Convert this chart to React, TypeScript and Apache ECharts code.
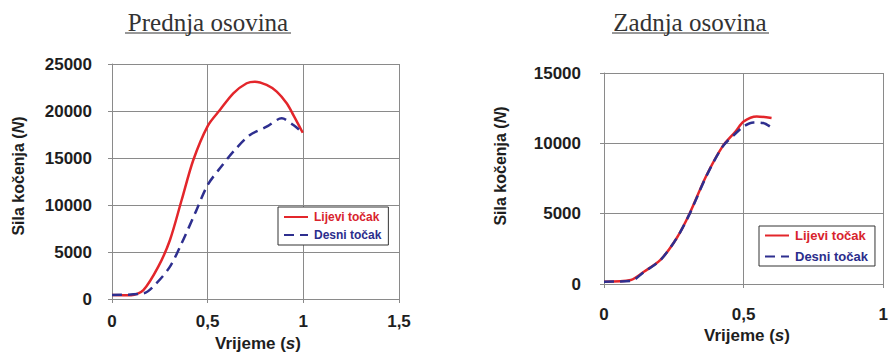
import React, { useEffect, useRef } from "react";
import * as echarts from "echarts";

// Prednja osovina (front axle)
const frontLeftT = [0, 0.1, 0.164, 0.242, 0.303, 0.364, 0.425, 0.5, 0.564, 0.634, 0.704, 0.747, 0.808, 0.861, 0.913, 0.948, 0.997];
const frontLeftF = [425, 400, 950, 3440, 6280, 10530, 14790, 18400, 20100, 21880, 22950, 23120, 22770, 22060, 20820, 19570, 17690];
const frontRightT = [0, 0.164, 0.233, 0.303, 0.364, 0.434, 0.5, 0.564, 0.634, 0.721, 0.808, 0.887, 0.948, 0.99];
const frontRightF = [425, 600, 1700, 3440, 5920, 9110, 12130, 13900, 15670, 17450, 18330, 19220, 18510, 17800];

// Zadnja osovina (rear axle)
const rearLeftT = [0, 0.096, 0.143, 0.202, 0.26, 0.307, 0.365, 0.424, 0.471, 0.5, 0.547, 0.6];
const rearLeftF = [165, 285, 875, 1710, 3250, 5030, 7640, 9770, 10840, 11550, 11910, 11800];
const rearRightT = [0, 0.096, 0.143, 0.202, 0.26, 0.307, 0.365, 0.424, 0.471, 0.5, 0.535, 0.57, 0.594];
const rearRightF = [165, 220, 850, 1700, 3250, 5000, 7600, 9750, 10700, 11200, 11480, 11440, 11200];

const seriesNames = ["Lijevi točak", "Desni točak"];
const titles = ["Prednja osovina", "Zadnja osovina"];
const xName = "Vrijeme (";
const yName = "Sila kočenja (";

const RED = "#e3262b";
const BLUE = "#2e2f8f";
const GRID = "#8a8a8a";
const FONT = "'Liberation Sans', Arial, sans-serif";

const zip = (t: number[], f: number[]) => t.map((v, i) => [v, f[i]]);

export default function App() {
  const ref = useRef<HTMLDivElement>(null);
  useEffect(() => {
    const chart = echarts.init(ref.current!, null, { renderer: "svg" });

    const xAxisBase = (gridIndex: number, max: number, margin: number) => ({
      type: "value",
      gridIndex,
      min: 0,
      max,
      interval: 0.5,
      axisLine: { show: true, lineStyle: { color: GRID, width: 1 } },
      axisTick: { show: true, length: 4, lineStyle: { color: GRID } },
      splitLine: { show: true, lineStyle: { color: GRID, width: 1 } },
      axisLabel: {
        margin,
        fontFamily: FONT,
        fontWeight: "bold",
        fontSize: 17,
        color: "#1e1e1e",
        formatter: (v: number) => String(v).replace(".", ","),
      },
    });
    const yAxisBase = (gridIndex: number, max: number, margin: number) => ({
      type: "value",
      gridIndex,
      min: 0,
      max,
      interval: 5000,
      axisLine: { show: true, lineStyle: { color: GRID, width: 1 } },
      axisTick: { show: true, length: 4, lineStyle: { color: GRID } },
      splitLine: { show: true, lineStyle: { color: GRID, width: 1 } },
      axisLabel: {
        margin,
        fontFamily: FONT,
        fontWeight: "bold",
        fontSize: 17,
        color: "#1e1e1e",
        formatter: (v: number) => String(v),
      },
    });

    const lineSeries = (name: string, data: number[][], idx: number, color: string, dashed: boolean) => ({
      type: "line",
      name,
      xAxisIndex: idx,
      yAxisIndex: idx,
      data,
      smooth: 0.3,
      symbol: "none",
      showSymbol: false,
      lineStyle: { color, width: 2.5, type: dashed ? [10, 6] : "solid" },
      itemStyle: { color },
    });

    const legendBase = (left: number, top: number, fontSize: number, gap: number, padTop: number) => ({
      left,
      top,
      orient: "vertical",
      itemWidth: 24,
      itemHeight: 14,
      itemGap: gap,
      padding: [padTop, 7, padTop, 5],
      borderColor: "#333",
      borderWidth: 1,
      borderRadius: 0,
      backgroundColor: "#fff",
      selectedMode: false,
      itemStyle: { opacity: 0 },
      data: [
        { name: seriesNames[0], textStyle: { color: "#d8232d" } },
        { name: seriesNames[1], textStyle: { color: "#2b2d8c" } },
      ],
      textStyle: { fontFamily: FONT, fontWeight: "bold", fontSize, padding: [0, 0, 0, 1] },
    });

    const titleText = (text: string, x: number, y: number) => ({
      type: "text",
      x,
      y,
      style: {
        text,
        font: "25px 'Liberation Serif', 'Times New Roman', serif",
        fill: "#333333",
        align: "center",
        verticalAlign: "middle",
      },
    });
    const underline = (x1: number, x2: number, y: number) => ({
      type: "line",
      shape: { x1, y1: y, x2, y2: y },
      style: { stroke: "#333333", lineWidth: 1 },
    });
    const richH = {
      a: { fontFamily: FONT, fontWeight: "bold", fontSize: 17, fill: "#1e1e1e", color: "#1e1e1e" },
      b: { fontFamily: FONT, fontWeight: "bold", fontStyle: "italic", fontSize: 17, fill: "#1e1e1e", color: "#1e1e1e" },
    };
    const richV = {
      a: { fontFamily: FONT, fontWeight: "bold", fontSize: 16, fill: "#1e1e1e", color: "#1e1e1e" },
      b: { fontFamily: FONT, fontWeight: "bold", fontStyle: "italic", fontSize: 16, fill: "#1e1e1e", color: "#1e1e1e" },
    };
    const xNameText = (x: number, y: number) => ({
      type: "text",
      x,
      y,
      style: {
        text: `{a|${xName}}{b|s}{a|)}`,
        rich: richH,
        align: "center",
        verticalAlign: "middle",
      },
    });
    const yNameText = (x: number, y: number) => ({
      type: "text",
      x,
      y,
      rotation: Math.PI / 2,
      style: {
        text: `{a|${yName}}{b|N}{a|)}`,
        rich: richV,
        align: "center",
        verticalAlign: "middle",
      },
    });

    chart.setOption({
      animation: false,
      backgroundColor: "#ffffff",
      grid: [
        { left: 112, top: 64, width: 287, height: 235 },
        { left: 604, top: 73, width: 285, height: 211 },
      ],
      xAxis: [xAxisBase(0, 1.5, 14), xAxisBase(1, 1, 22)],
      yAxis: [yAxisBase(0, 25000, 20), yAxisBase(1, 15000, 23)],
      legend: [legendBase(278, 207, 12, 6, 4), legendBase(759, 226, 13, 8, 3)],
      series: [
        lineSeries(seriesNames[0], zip(frontLeftT, frontLeftF), 0, RED, false),
        lineSeries(seriesNames[1], zip(frontRightT, frontRightF), 0, BLUE, true),
        lineSeries(seriesNames[0], zip(rearLeftT, rearLeftF), 1, RED, false),
        lineSeries(seriesNames[1], zip(rearRightT, rearRightF), 1, BLUE, true),
      ],
      graphic: [
        titleText(titles[0], 208, 22),
        underline(125, 291, 33),
        titleText(titles[1], 690, 22),
        underline(612, 769, 33),
        xNameText(258, 343),
        xNameText(747, 335),
        yNameText(18, 176),
        yNameText(500, 166),
      ],
    });
    return () => chart.dispose();
  }, []);
  return (
    <div
      ref={ref}
      style={{ position: "fixed", left: 0, top: 0, width: 891, height: 354, background: "#fff" }}
    />
  );
}
